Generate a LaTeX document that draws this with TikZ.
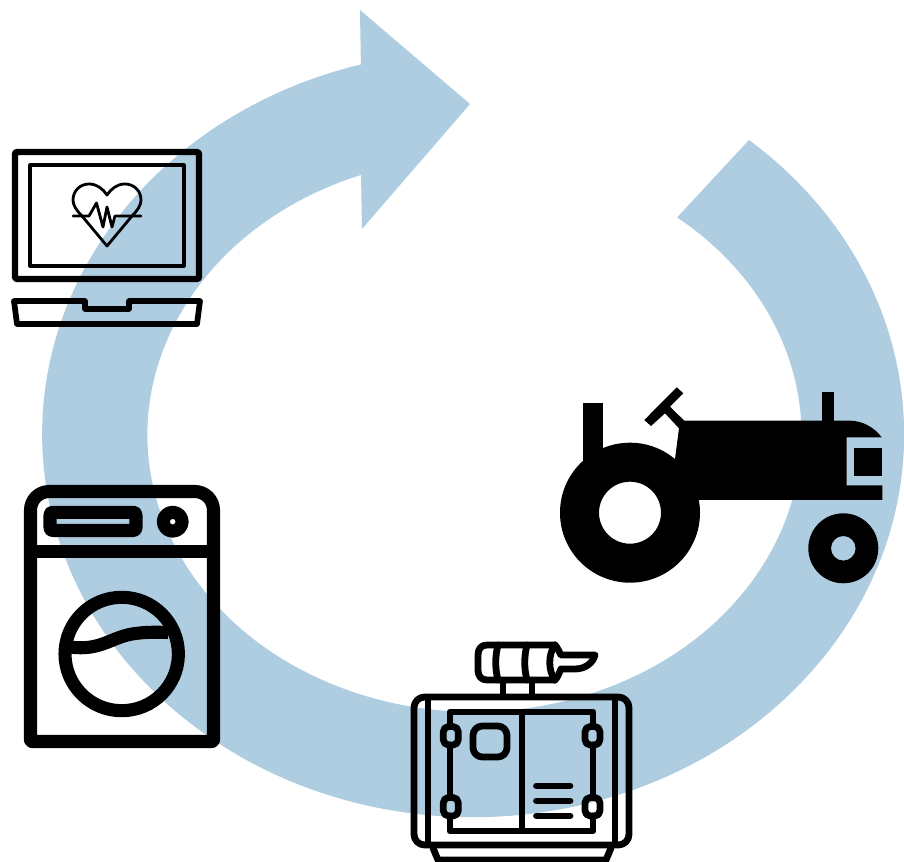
\documentclass[tikz,border=0pt]{standalone}
\usepackage{xcolor}
\usepackage{tikz}
\definecolor{ringblue}{RGB}{174,205,225}
\tikzset{
    icon/.style={draw=black, line width=#1, line join=round, line cap=round},
    icon/.default=5.1pt,
    solid part/.style={fill=black, even odd rule}
}

\begin{document}
\begin{tikzpicture}[x=0.75pt, y=-0.75pt]
        \useasboundingbox (0,0) rectangle (904,862);

        \fill[ringblue] (749,140) arc[x radius=431, y radius=383, start angle=-50.2, end angle=254.9]
            -- (360,10) -- (470,104) -- (362,229) -- (361,175)
            arc[x radius=327, y radius=277, start angle=249.7, end angle=-51.7] -- cycle;

        \draw[icon=4.6pt, rounded corners=1] (15,152) rectangle (199,279);
        \draw[icon=2.3pt] (30,165) rectangle (184,266);
        \draw[icon=2.1pt] (107,246) -- (82,216) .. controls (76,210) and (73,205) .. (73,200)
            .. controls (73,191) and (80,184) .. (89,184) .. controls (97,184) and (103,189) .. (107,195)
            .. controls (111,189) and (117,184) .. (125,184) .. controls (134,184) and (141,191) .. (141,200)
            .. controls (141,205) and (138,210) .. (132,216) -- cycle;
        \draw[icon=2.1pt] (73,216) -- (89,216) -- (96.5,203) -- (103,227) -- (107,207) -- (112,227) -- (115,216) -- (141,216);
        \draw[icon=4.3pt] (14,301) -- (85,301) -- (85,309) -- (129,309) -- (129,301) -- (200,301) -- (197,324) -- (17,324) -- cycle;

        \draw[icon=9.8pt] (30.5,741.5) [rounded corners=14] -- (30.5,491.5) -- (213.5,491.5) [rounded corners=1] -- (213.5,741.5) -- cycle;
        \draw[icon=9.8pt, line cap=butt] (30.5,551.5) -- (213.5,551.5);
        \draw[icon=9.8pt, rounded corners=2] (50,512.3) rectangle (136,530.5);
        \draw[icon=9.8pt] (172.7,521.7) circle[radius=9.4];
        \draw[icon=9.8pt] (121.7,654) circle[radius=56.7];
        \draw[icon=9.8pt, line cap=butt] (70,647) .. controls (100,651) and (110,638) .. (132,634) .. controls (145,632) and (155,632) .. (168,632.5);

        \fill[solid part] (630,512.7) circle[radius=70] (630,512.7) circle[radius=31];
        \fill[solid part] (843.3,548.3) circle[radius=35] (843.3,548.3) circle[radius=12.3];
        \fill[black] (583.3,403) rectangle (603.3,470);
        \fill[black] (822.3,391.7) rectangle (834.3,425);
        \fill[black] (644.3,420) -- (676.7,387.3) -- (683.3,393.3) -- (670,406.7) -- (684.3,420.7)
            -- (850,420.7) .. controls (862,420.7) and (874,427) .. (881.7,437.3) -- (846.7,437.3)
            -- (846.7,485.3) -- (882.3,485.3) -- (882.3,500) -- (690,500) -- (670,470)
            -- (675,459) -- (679,428.3) -- (665,413.3) -- (651,426) -- cycle;
        \fill[black] (854.3,448.3) rectangle (882.3,475.7);

        \draw[icon, rounded corners=8] (414,845) -- (414,697) -- (629,697) -- (629,845) -- cycle;
        \draw[icon, line cap=butt] (428,697) -- (428,845);
        \draw[icon, line cap=butt] (615,697) -- (615,845);
        \draw[icon] (433,848) -- (438,860) -- (606,860) -- (611,848);
        \draw[icon] (450,726) -- (450,712) -- (593,712) -- (593,726);
        \draw[icon] (593,745) -- (593,797);
        \draw[icon] (593,816) -- (593,831) -- (450,831) -- (450,816);
        \draw[icon] (450,797) -- (450,745);
        \draw[icon, line cap=butt] (522,712) -- (522,831);
        \draw[icon, rounded corners=4] (443.3,726.5) rectangle (458.3,745);
        \draw[icon, rounded corners=4] (443.3,797.5) rectangle (458.3,816);
        \draw[icon, rounded corners=4] (585,726.5) rectangle (600,745);
        \draw[icon, rounded corners=4] (585,797.5) rectangle (600,816);
        \draw[icon, rounded corners=7] (473,726) rectangle (507,757);
        \draw[icon] (536.5,786) -- (570,786);
        \draw[icon] (536.5,801) -- (570,801);
        \draw[icon] (536.5,816) -- (570,816);

        \draw[icon] (555,645) -- (487,645) .. controls (481,645) and (478,649) .. (478,655) -- (478,670)
            .. controls (478,676) and (481,680) .. (487,680) -- (555,680);
        \draw[icon] (498,645) .. controls (495,656) and (495,669) .. (498,680);
        \draw[icon] (527,645) .. controls (524,656) and (524,669) .. (527,680);
        \draw[icon] (555,645) .. controls (548,654) and (548,671) .. (555,680);
        \draw[icon] (555,645) .. controls (558,648) and (559,652) .. (561,655) -- (595,655)
            .. controls (593,663) and (585,669) .. (575,669) -- (561,669) .. controls (559,673) and (558,677) .. (555,680);
        \draw[icon, line cap=butt] (503,682) -- (503,697);
        \draw[icon, line cap=butt] (532,682) -- (532,697);
\end{tikzpicture}
\end{document}
